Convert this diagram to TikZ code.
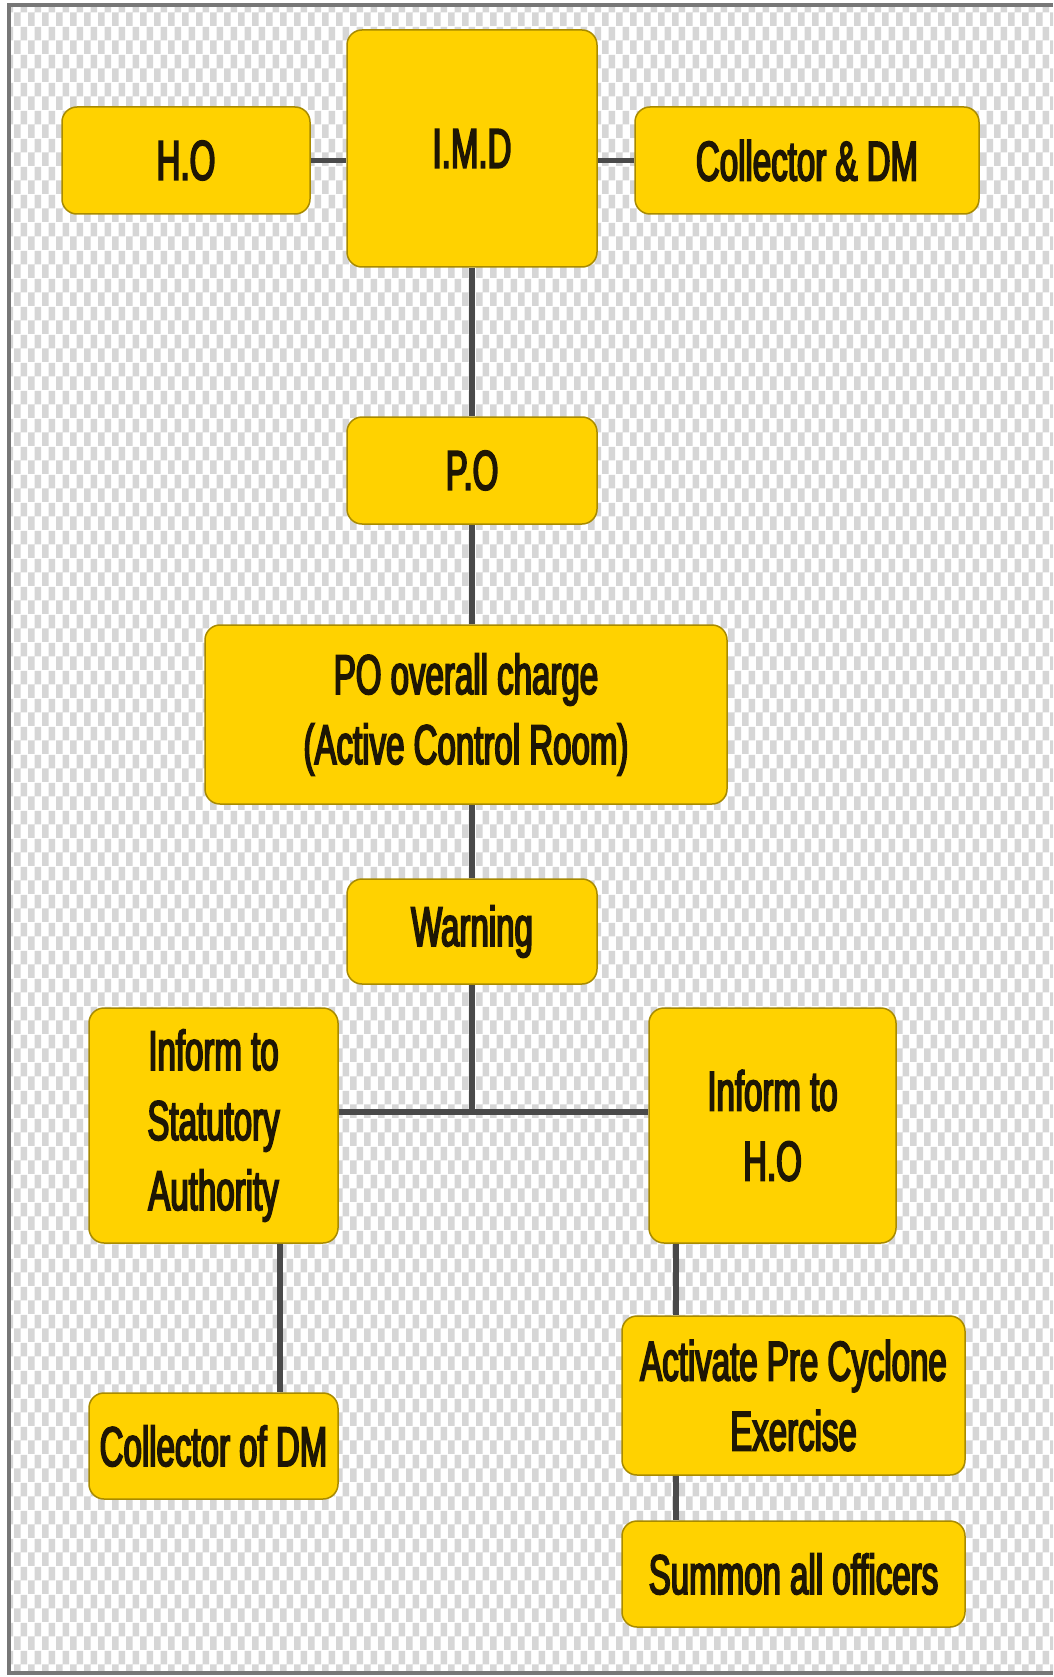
\documentclass[tikz,border=0pt]{standalone}
\usepackage{fontspec}
\setmainfont{Liberation Sans}[FakeStretch=0.59,FakeBold=3]
\usetikzlibrary{patterns}
\definecolor{boxfill}{HTML}{FFD200}
\definecolor{boxedge}{HTML}{A88A00}
\definecolor{txt}{HTML}{1E1604}
\definecolor{conn}{HTML}{4A4A4A}
\definecolor{chk}{HTML}{D6D6D6}
\definecolor{framec}{HTML}{777777}
\pgfdeclarepatternformonly{checker}{\pgfpointorigin}{\pgfqpoint{14pt}{28pt}}{\pgfqpoint{14pt}{28pt}}{%
  \pgfpathrectangle{\pgfpointorigin}{\pgfqpoint{7pt}{14pt}}%
  \pgfpathrectangle{\pgfqpoint{7pt}{14pt}}{\pgfqpoint{7pt}{14pt}}%
  \pgfusepath{fill}}
\begin{document}
\begin{tikzpicture}[x=1pt,y=-1pt,
  box/.style={rectangle, rounded corners=15pt, fill=boxfill, draw=boxedge, line width=1.5pt,
    align=center, text=txt, inner sep=0pt, font=\fontsize{56}{70}\selectfont},
  conline/.style={draw=conn, line width=5.5pt},
  framel/.style={draw=framec, line width=3.5pt}]
\useasboundingbox (0,0) rectangle (1053,1677);
\fill[white] (0,0) rectangle (1053,1677);
\fill[pattern=checker, pattern color=chk] (9,5) rectangle (1053,1673);
\draw[framel] (1053,5) -- (9,5) -- (9,1673) -- (1053,1673);

\node[box, minimum width=248pt, minimum height=107pt] (ho) at (186,160.5) {H.O};
\node[box, minimum width=250pt, minimum height=237pt] (imd) at (472,148.5) {I.M.D};
\node[box, minimum width=344pt, minimum height=107pt] (cdm) at (807,160.5) {Collector \& DM};
\node[box, minimum width=250pt, minimum height=107pt] (po) at (472,470.5) {P.O};
\node[box, minimum width=522pt, minimum height=179pt] (poc) at (466,714.5) {PO overall charge\\(Active Control Room)};
\node[box, minimum width=250pt, minimum height=105pt] (warn) at (472,931.5) {Warning};
\node[box, minimum width=249pt, minimum height=235pt] (stat) at (213.5,1125.5) {Inform to\\Statutory\\Authority};
\node[box, minimum width=247pt, minimum height=235pt] (iho) at (772.5,1125.5) {Inform to\\H.O};
\node[box, minimum width=249pt, minimum height=106pt] (col) at (213.5,1446) {Collector of DM};
\node[box, minimum width=343pt, minimum height=159pt] (act) at (793.5,1395.5) {Activate Pre Cyclone\\Exercise};
\node[box, minimum width=343pt, minimum height=106pt] (sum) at (793.5,1574) {Summon all officers};

\coordinate (j) at (472,1112);
\coordinate (sx) at (280,0);
\coordinate (rx) at (676,0);

\draw[conline] (ho.east) -- (ho.east -| imd.west);
\draw[conline] (cdm.west) -- (cdm.west -| imd.east);
\draw[conline] (imd.south) -- (po.north);
\draw[conline] (po.south) -- (po.south |- poc.north);
\draw[conline] (po.south |- poc.south) -- (warn.north);
\draw[conline] (warn.south) -- (j);
\draw[conline] (stat.east |- j) -- (iho.west |- j);
\draw[conline] (stat.south -| sx) -- (col.north -| sx);
\draw[conline] (iho.south -| rx) -- (act.north -| rx);
\draw[conline] (act.south -| rx) -- (sum.north -| rx);
\end{tikzpicture}
\end{document}
